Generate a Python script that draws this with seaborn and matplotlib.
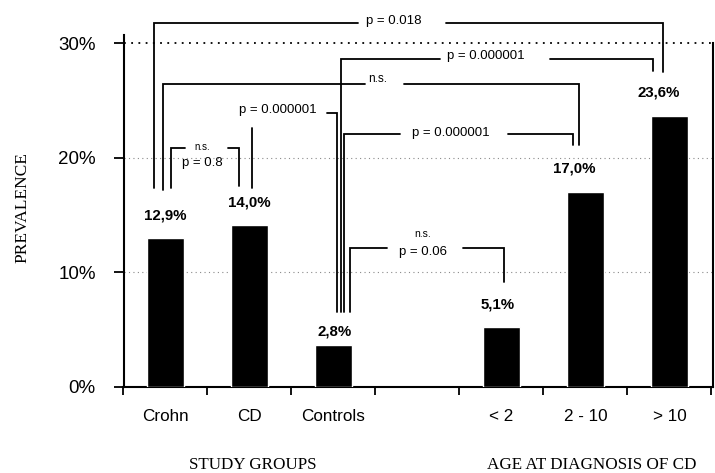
import matplotlib
matplotlib.use("Agg")
import matplotlib.pyplot as plt
import seaborn as sns
import pandas as pd

# ---------------- data ----------------
categories = ["Crohn", "CD", "Controls", " ", "< 2", "2 - 10", "> 10"]
bar_groups = ["Crohn", "CD", "Controls", "< 2", "2 - 10", "> 10"]
bar_heights = [13.0, 14.1, 3.6, 5.2, 17.0, 23.6]
label_values = [12.9, 14.0, 2.8, 5.1, 17.0, 23.6]
label_texts = ["12,9%", "14,0%", "2,8%", "5,1%", "17,0%", "23,6%"]
y_ticks = [0, 10, 20, 30]
y_tick_labels = ["0%", "10%", "20%", "30%"]

# horizontal nudges (points) of the value labels, as in the original figure
label_dx = [0, 0, 1, -3, -8, -8]

# significance brackets: left x, right x, top y, left-leg bottom, right-leg bottom, gap in line
brackets = [
    (-0.137, 5.923, 31.74, 17.34, 27.47, (2.292, 3.339)),
    (-0.030, 4.923, 26.42, 17.17, 21.10, (2.375, 2.839)),
    (2.086, 5.804, 28.60, 6.52, 27.56, (3.268, 4.577)),
    (2.129, 4.851, 22.06, 6.52, 21.10, (2.792, 4.077)),
    (2.196, 4.030, 12.10, 6.52, 9.14, (2.637, 3.542)),
    (0.065, 0.875, 20.83, 17.34, 17.52, (0.232, 0.744)),
]
bracket_texts = [
    ("p = 0.018", 2.72, 31.95, 9.5),
    ("n.s.", 2.53, 26.85, 8.5),
    ("p = 0.000001", 3.815, 28.85, 9.5),
    ("p = 0.000001", 3.399, 22.14, 9.5),
    ("n.s.", 3.065, 13.30, 7.5),
    ("p = 0.06", 3.065, 11.75, 9.5),
    ("p = 0.000001", 1.339, 24.15, 9.5),
    ("n.s.", 0.435, 20.95, 7.0),
    ("p = 0.8", 0.44, 19.52, 9.5),
]

# ---------------- style ----------------
sns.set_theme(style="white")
plt.rcParams['font.family'] = ['Liberation Sans', 'DejaVu Sans']
plt.rcParams['text.color'] = 'black'
plt.rcParams['axes.labelcolor'] = 'black'
plt.rcParams['xtick.color'] = 'black'
plt.rcParams['ytick.color'] = 'black'

fig = plt.figure(figsize=(7.15, 4.73), dpi=100)
ax = fig.add_axes([123.5 / 715, 86.3 / 473, (713 - 123.5) / 715, (386.7 - 35) / 473])

df = pd.DataFrame({"group": bar_groups, "prevalence": bar_heights})
sns.barplot(data=df, x="group", y="prevalence", order=categories, color="black",
            saturation=1, width=0.44, ax=ax, zorder=3)

ax.set_xlim(-0.5, 6.518)
ax.set_ylim(0, 30.7)

# grid lines
ax.axhline(30, color="black", ls=(0, (1, 3)), lw=1.3, zorder=1)
for yv in (10, 20):
    ax.axhline(yv, color="#8a8a8a", ls=(0, (1, 3)), lw=0.8, zorder=1)

# spines
ax.spines["top"].set_visible(False)
for s in ("left", "bottom", "right"):
    ax.spines[s].set_color("black")
    ax.spines[s].set_linewidth(1.5)
ax.spines["right"].set_bounds(0, 30)

# ticks
ax.set_yticks(y_ticks)
ax.set_yticklabels(y_tick_labels, fontsize=13.5)
ax.tick_params(axis="y", which="major", direction="out", length=7, width=1.3,
               color="black", labelcolor="black", left=True, pad=13)
ax.set_xticks(range(len(categories)))
ax.set_xticklabels(categories, fontsize=12.3)
ax.set_xticks([i - 0.5 for i in range(len(categories) + 1)], minor=True)
ax.tick_params(axis="x", which="major", length=0, pad=16, labelcolor="black")
ax.tick_params(axis="x", which="minor", direction="out", length=6, width=1.3,
               color="black", bottom=True)

ax.set_xlabel("")
ax.set_ylabel("")
fig.text(22 / 715, 1 - 208 / 473, "PREVALENCE", rotation=90, ha="center", va="center",
         fontsize=12.5, color="black", family=["Liberation Serif", "DejaVu Serif"])
fig.text(253 / 715, 1 - 465 / 473, "STUDY GROUPS", ha="center", va="center",
         fontsize=12.3, color="black", family=["Liberation Serif", "DejaVu Serif"])
fig.text(592 / 715, 1 - 465 / 473, "AGE AT DIAGNOSIS OF CD", ha="center", va="center",
         fontsize=12.3, color="black", family=["Liberation Serif", "DejaVu Serif"])

# value labels
for g, v, t, dx in zip(bar_groups, label_values, label_texts, label_dx):
    i = categories.index(g)
    ax.annotate(t, xy=(i, v), xytext=(dx, 17), textcoords="offset points",
                ha="center", va="center", fontsize=10.8, fontweight="bold", color="black")

# brackets
lw = 1.3
for xl, xr, top, yl, yr, gap in brackets:
    ax.plot([xl, xl, gap[0]], [yl, top, top], color="black", lw=lw, clip_on=False,
            solid_joinstyle="miter", zorder=4)
    ax.plot([gap[1], xr, xr], [top, top, yr], color="black", lw=lw, clip_on=False,
            solid_joinstyle="miter", zorder=4)
# CD vs Controls bracket (partial)
ax.plot([1.030, 1.030], [17.34, 22.58], color="black", lw=lw, clip_on=False, zorder=4)
ax.plot([1.923, 2.045, 2.045], [23.89, 23.89, 6.52], color="black", lw=lw,
        clip_on=False, solid_joinstyle="miter", zorder=4)

for t, x, y, fs in bracket_texts:
    ax.text(x, y, t, ha="center", va="center", fontsize=fs, color="black",
            clip_on=False, zorder=5)

fig.savefig("out.png", dpi=100)
